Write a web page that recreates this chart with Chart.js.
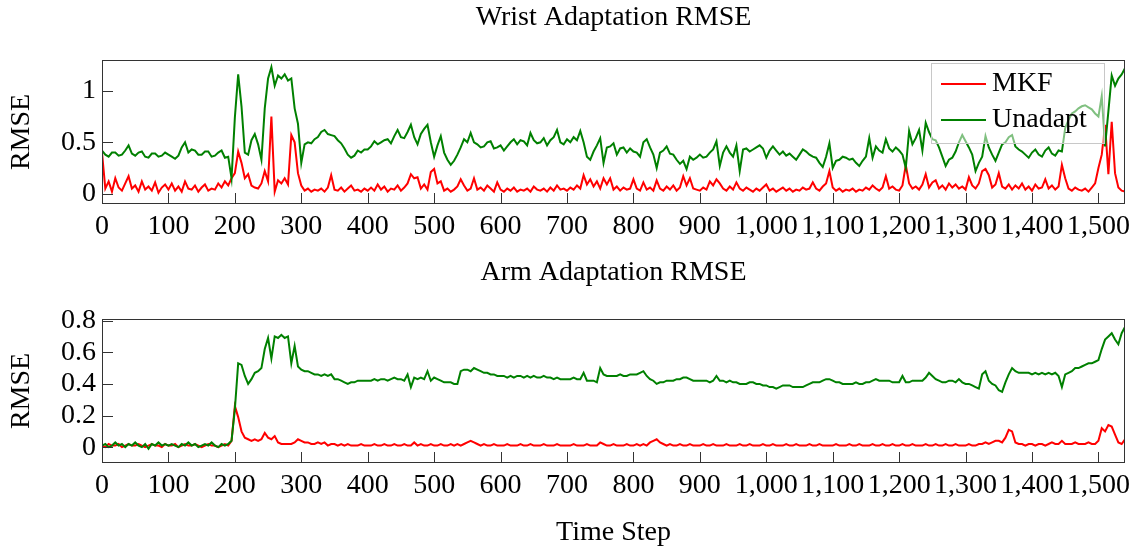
<!DOCTYPE html>
<html>
<head>
<meta charset="utf-8">
<script src="https://cdn.jsdelivr.net/npm/chart.js@4.4.1/dist/chart.umd.min.js"></script>
<style>
  body { margin: 0; background: #fff; }
  #wrap { position: relative; width: 1136px; height: 550px; }
  .box { position: absolute; left: 0; width: 1136px; }
  #topBox { top: 0; height: 250px; }
  #botBox { top: 250px; height: 300px; }
</style>
</head>
<body>
<div id="wrap">
  <div class="box" id="topBox"><canvas id="wristChart"></canvas></div>
  <div class="box" id="botBox"><canvas id="armChart"></canvas></div>
</div>
<script>
// one value every 5 time steps (0 .. 1540)
const stepSize = 5;

const wristMkf = [
  0.40, 0.05, 0.12, 0.02, 0.15, 0.06, 0.03, 0.10, 0.17, 0.05, 0.08, 0.02, 0.12, 0.04, 0.07, 0.03, 0.11, 0.01, 0.06, 0.09,
  0.04, 0.10, 0.03, 0.07, 0.02, 0.12, 0.05, 0.04, 0.08, 0.02, 0.06, 0.09, 0.03, 0.05, 0.04, 0.10, 0.06, 0.12, 0.08, 0.15,
  0.20, 0.41, 0.30, 0.15, 0.19, 0.08, 0.06, 0.05, 0.10, 0.22, 0.12, 0.75, 0.02, 0.13, 0.10, 0.15, 0.09, 0.57, 0.50, 0.20,
  0.08, 0.03, 0.05, 0.02, 0.04, 0.03, 0.05, 0.02, 0.06, 0.18, 0.04, 0.03, 0.06, 0.02, 0.05, 0.08, 0.03, 0.04, 0.02, 0.05,
  0.03, 0.06, 0.03, 0.09, 0.04, 0.07, 0.02, 0.05, 0.04, 0.08, 0.03, 0.06, 0.10, 0.19, 0.15, 0.16, 0.05, 0.09, 0.04, 0.21,
  0.24, 0.10, 0.12, 0.03, 0.05, 0.02, 0.04, 0.07, 0.14, 0.08, 0.03, 0.05, 0.15, 0.04, 0.06, 0.03, 0.08, 0.05, 0.02, 0.11,
  0.04, 0.02, 0.05, 0.03, 0.06, 0.02, 0.04, 0.03, 0.05, 0.02, 0.07, 0.04, 0.03, 0.05, 0.02, 0.06, 0.03, 0.08, 0.04, 0.05,
  0.03, 0.06, 0.04, 0.08, 0.05, 0.18, 0.09, 0.14, 0.07, 0.12, 0.05, 0.15, 0.09, 0.15, 0.04, 0.07, 0.03, 0.06, 0.04, 0.05,
  0.14, 0.05, 0.03, 0.11, 0.04, 0.06, 0.03, 0.13, 0.05, 0.03, 0.07, 0.04, 0.08, 0.03, 0.06, 0.17, 0.08, 0.15, 0.05, 0.04,
  0.03, 0.06, 0.04, 0.12, 0.08, 0.14, 0.10, 0.05, 0.03, 0.07, 0.04, 0.11, 0.05, 0.03, 0.06, 0.04, 0.02, 0.05, 0.03, 0.06,
  0.09, 0.03, 0.05, 0.02, 0.04, 0.06, 0.03, 0.05, 0.02, 0.04, 0.03, 0.06, 0.04, 0.05, 0.11, 0.05, 0.03, 0.07, 0.10, 0.22,
  0.06, 0.03, 0.05, 0.02, 0.04, 0.03, 0.05, 0.02, 0.04, 0.03, 0.06, 0.04, 0.08, 0.05, 0.03, 0.06, 0.17, 0.05, 0.07, 0.04,
  0.03, 0.08, 0.28, 0.10, 0.05, 0.07, 0.04, 0.09, 0.19, 0.06, 0.11, 0.13, 0.05, 0.08, 0.04, 0.10, 0.06, 0.09, 0.05, 0.07,
  0.04, 0.16, 0.08, 0.05, 0.10, 0.22, 0.24, 0.18, 0.06, 0.09, 0.20, 0.07, 0.05, 0.09, 0.04, 0.08, 0.05, 0.10, 0.04, 0.07,
  0.03, 0.09, 0.05, 0.06, 0.14, 0.05, 0.08, 0.04, 0.07, 0.28, 0.15, 0.05, 0.03, 0.06, 0.04, 0.03, 0.05, 0.02, 0.06, 0.10,
  0.25, 0.38, 0.67, 0.19, 0.70, 0.20, 0.06, 0.03, 0.02
];

const wristUnadapt = [
  0.42, 0.38, 0.36, 0.40, 0.40, 0.37, 0.38, 0.42, 0.47, 0.39, 0.37, 0.40, 0.41, 0.36, 0.35, 0.39, 0.39, 0.36, 0.37, 0.40,
  0.38, 0.36, 0.34, 0.37, 0.45, 0.50, 0.40, 0.43, 0.42, 0.38, 0.38, 0.41, 0.41, 0.36, 0.37, 0.40, 0.42, 0.35, 0.36, 0.15,
  0.74, 1.16, 0.85, 0.40, 0.38, 0.52, 0.58, 0.48, 0.33, 0.83, 1.12, 1.23, 1.05, 1.15, 1.12, 1.16, 1.10, 1.12, 0.83, 0.68,
  0.30, 0.48, 0.50, 0.49, 0.53, 0.55, 0.60, 0.62, 0.58, 0.57, 0.56, 0.52, 0.49, 0.44, 0.38, 0.35, 0.37, 0.42, 0.40, 0.43,
  0.43, 0.46, 0.51, 0.48, 0.50, 0.52, 0.53, 0.49, 0.56, 0.62, 0.55, 0.54, 0.60, 0.67, 0.55, 0.48, 0.58, 0.63, 0.67, 0.50,
  0.36, 0.47, 0.56, 0.40, 0.33, 0.28, 0.32, 0.38, 0.45, 0.53, 0.50, 0.59, 0.50, 0.48, 0.45, 0.46, 0.50, 0.51, 0.44, 0.45,
  0.47, 0.42, 0.46, 0.50, 0.53, 0.48, 0.52, 0.51, 0.47, 0.59, 0.52, 0.49, 0.50, 0.54, 0.47, 0.52, 0.55, 0.62, 0.50, 0.48,
  0.53, 0.50, 0.55, 0.52, 0.61, 0.50, 0.36, 0.33, 0.41, 0.47, 0.54, 0.30, 0.45, 0.46, 0.49, 0.38, 0.44, 0.45, 0.40, 0.44,
  0.41, 0.40, 0.36, 0.50, 0.53, 0.45, 0.38, 0.25, 0.40, 0.42, 0.46, 0.39, 0.38, 0.33, 0.29, 0.32, 0.24, 0.36, 0.33, 0.35,
  0.38, 0.35, 0.36, 0.40, 0.43, 0.51, 0.27, 0.40, 0.46, 0.40, 0.36, 0.47, 0.22, 0.43, 0.44, 0.41, 0.43, 0.45, 0.47, 0.44,
  0.35, 0.42, 0.46, 0.42, 0.38, 0.41, 0.37, 0.39, 0.36, 0.33, 0.38, 0.43, 0.41, 0.38, 0.36, 0.35, 0.30, 0.26, 0.36, 0.49,
  0.25, 0.32, 0.33, 0.36, 0.35, 0.33, 0.34, 0.30, 0.27, 0.32, 0.36, 0.54, 0.35, 0.46, 0.42, 0.40, 0.53, 0.44, 0.41, 0.45,
  0.42, 0.38, 0.25, 0.61, 0.48, 0.54, 0.62, 0.42, 0.69, 0.60, 0.53, 0.52, 0.45, 0.36, 0.27, 0.33, 0.35, 0.41, 0.50, 0.57,
  0.51, 0.45, 0.38, 0.22, 0.30, 0.36, 0.56, 0.45, 0.38, 0.32, 0.40, 0.48, 0.50, 0.55, 0.57, 0.46, 0.43, 0.41, 0.38, 0.35,
  0.40, 0.43, 0.38, 0.36, 0.42, 0.45, 0.39, 0.37, 0.42, 0.41, 0.64, 0.72, 0.78, 0.80, 0.83, 0.85, 0.86, 0.84, 0.82, 0.78,
  0.75, 0.95, 0.46, 0.80, 1.15, 1.05, 1.12, 1.16, 1.22
];

const armMkf = [
  0.01, 0.00, 0.02, 0.01, 0.01, 0.02, 0.00, 0.01, 0.02, 0.01, 0.01, 0.02, 0.01, 0.00, 0.01, 0.02, 0.01, 0.01, 0.00, 0.02,
  0.01, 0.01, 0.02, 0.00, 0.01, 0.02, 0.01, 0.01, 0.02, 0.01, 0.00, 0.01, 0.02, 0.01, 0.01, 0.00, 0.01, 0.02, 0.01, 0.04,
  0.26, 0.19, 0.10, 0.06, 0.05, 0.04, 0.05, 0.04, 0.05, 0.09, 0.06, 0.05, 0.07, 0.03, 0.02, 0.02, 0.02, 0.02, 0.03, 0.05,
  0.04, 0.03, 0.03, 0.02, 0.02, 0.03, 0.02, 0.03, 0.01, 0.02, 0.02, 0.01, 0.02, 0.01, 0.02, 0.01, 0.01, 0.01, 0.02, 0.01,
  0.01, 0.01, 0.02, 0.01, 0.01, 0.02, 0.01, 0.01, 0.02, 0.01, 0.01, 0.02, 0.01, 0.01, 0.03, 0.01, 0.02, 0.01, 0.01, 0.02,
  0.01, 0.01, 0.02, 0.01, 0.01, 0.02, 0.01, 0.02, 0.01, 0.02, 0.03, 0.04, 0.03, 0.02, 0.01, 0.02, 0.01, 0.01, 0.02, 0.01,
  0.01, 0.01, 0.02, 0.01, 0.01, 0.01, 0.02, 0.01, 0.01, 0.02, 0.01, 0.01, 0.01, 0.02, 0.01, 0.01, 0.01, 0.02, 0.01, 0.01,
  0.01, 0.01, 0.02, 0.01, 0.01, 0.01, 0.02, 0.01, 0.01, 0.01, 0.03, 0.02, 0.01, 0.01, 0.02, 0.01, 0.01, 0.01, 0.02, 0.01,
  0.01, 0.02, 0.01, 0.02, 0.01, 0.03, 0.04, 0.05, 0.03, 0.02, 0.01, 0.02, 0.01, 0.01, 0.02, 0.01, 0.01, 0.02, 0.01, 0.01,
  0.01, 0.02, 0.01, 0.01, 0.02, 0.01, 0.01, 0.01, 0.02, 0.01, 0.01, 0.01, 0.02, 0.01, 0.01, 0.02, 0.01, 0.01, 0.01, 0.02,
  0.01, 0.01, 0.02, 0.01, 0.01, 0.01, 0.02, 0.01, 0.01, 0.02, 0.01, 0.01, 0.01, 0.02, 0.01, 0.01, 0.02, 0.01, 0.01, 0.01,
  0.01, 0.02, 0.01, 0.01, 0.01, 0.02, 0.01, 0.01, 0.02, 0.01, 0.01, 0.01, 0.02, 0.01, 0.01, 0.02, 0.01, 0.01, 0.02, 0.01,
  0.01, 0.02, 0.01, 0.01, 0.02, 0.01, 0.01, 0.01, 0.02, 0.01, 0.01, 0.02, 0.01, 0.01, 0.02, 0.01, 0.01, 0.02, 0.01, 0.01,
  0.01, 0.02, 0.01, 0.01, 0.02, 0.02, 0.03, 0.02, 0.03, 0.04, 0.04, 0.03, 0.06, 0.11, 0.10, 0.03, 0.02, 0.02, 0.01, 0.02,
  0.02, 0.01, 0.02, 0.02, 0.01, 0.02, 0.03, 0.02, 0.02, 0.04, 0.02, 0.02, 0.02, 0.03, 0.02, 0.02, 0.02, 0.03, 0.02, 0.02,
  0.04, 0.12, 0.10, 0.14, 0.13, 0.08, 0.03, 0.02, 0.05
];

const armUnadapt = [
  0.01, 0.02, 0.00, 0.01, 0.03, 0.01, 0.02, 0.00, 0.02, 0.01, 0.03, 0.01, 0.00, 0.02, -0.01, 0.02, 0.01, 0.03, 0.01, 0.02,
  0.01, 0.02, 0.01, 0.00, 0.02, 0.01, 0.03, 0.01, 0.02, 0.00, 0.01, 0.02, 0.01, 0.03, 0.01, 0.00, 0.02, 0.01, 0.02, 0.04,
  0.24, 0.53, 0.52, 0.45, 0.40, 0.43, 0.47, 0.48, 0.50, 0.62, 0.69, 0.56, 0.70, 0.69, 0.71, 0.69, 0.70, 0.53, 0.64, 0.51,
  0.49, 0.48, 0.48, 0.47, 0.46, 0.46, 0.45, 0.46, 0.45, 0.46, 0.43, 0.43, 0.42, 0.41, 0.40, 0.41, 0.41, 0.42, 0.42, 0.42,
  0.42, 0.42, 0.43, 0.42, 0.43, 0.43, 0.42, 0.43, 0.44, 0.43, 0.43, 0.42, 0.46, 0.38, 0.44, 0.43, 0.44, 0.43, 0.48, 0.42,
  0.44, 0.43, 0.42, 0.41, 0.41, 0.41, 0.40, 0.40, 0.48, 0.49, 0.49, 0.48, 0.50, 0.49, 0.48, 0.47, 0.47, 0.46, 0.46, 0.45,
  0.45, 0.45, 0.44, 0.45, 0.44, 0.45, 0.45, 0.44, 0.45, 0.44, 0.45, 0.44, 0.44, 0.45, 0.44, 0.44, 0.43, 0.44, 0.43, 0.43,
  0.43, 0.43, 0.44, 0.43, 0.43, 0.47, 0.42, 0.42, 0.42, 0.41, 0.50, 0.46, 0.45, 0.45, 0.45, 0.45, 0.46, 0.45, 0.45, 0.46,
  0.46, 0.46, 0.47, 0.48, 0.45, 0.43, 0.42, 0.40, 0.41, 0.41, 0.42, 0.42, 0.42, 0.43, 0.43, 0.44, 0.44, 0.43, 0.42, 0.42,
  0.42, 0.42, 0.42, 0.41, 0.42, 0.45, 0.42, 0.42, 0.41, 0.42, 0.41, 0.41, 0.40, 0.40, 0.40, 0.41, 0.41, 0.40, 0.40, 0.39,
  0.39, 0.38, 0.38, 0.37, 0.38, 0.39, 0.39, 0.39, 0.38, 0.38, 0.38, 0.38, 0.39, 0.40, 0.41, 0.41, 0.41, 0.42, 0.43, 0.43,
  0.42, 0.41, 0.41, 0.40, 0.40, 0.40, 0.40, 0.41, 0.40, 0.40, 0.41, 0.41, 0.42, 0.43, 0.42, 0.42, 0.42, 0.42, 0.41, 0.41,
  0.41, 0.45, 0.41, 0.41, 0.42, 0.42, 0.42, 0.42, 0.44, 0.47, 0.45, 0.43, 0.42, 0.41, 0.41, 0.42, 0.42, 0.41, 0.43, 0.41,
  0.40, 0.40, 0.39, 0.38, 0.37, 0.46, 0.48, 0.42, 0.40, 0.39, 0.36, 0.35, 0.41, 0.46, 0.50, 0.48, 0.47, 0.47, 0.47, 0.47,
  0.46, 0.47, 0.46, 0.47, 0.46, 0.47, 0.46, 0.47, 0.45, 0.38, 0.46, 0.47, 0.48, 0.50, 0.50, 0.51, 0.52, 0.53, 0.53, 0.54,
  0.55, 0.62, 0.68, 0.70, 0.72, 0.68, 0.65, 0.72, 0.76
];

const xTicks = [0, 100, 200, 300, 400, 500, 600, 700, 800, 900, 1000, 1100, 1200, 1300, 1400, 1500];
const wristYTicks = [0, 0.5, 1];
const armYTicks = [0, 0.2, 0.4, 0.6, 0.8];
const seriesNames = ['MKF', 'Unadapt'];
const seriesColors = ['#ff0000', '#008000'];

const timeSteps = wristMkf.map((_, i) => i * stepSize);

const serif = "'Liberation Serif', 'Times New Roman', serif";
const fontSize = 28;
Chart.defaults.font.family = serif;
Chart.defaults.font.size = fontSize;
Chart.defaults.color = '#000';

function withCommas(v) {
    return String(v).replace(/\B(?=(\d{3})+(?!\d))/g, ',');
}

// pgfplots style frame with ticks pointing inwards
const framePlugin = {
    id: 'frame',
    afterDatasetsDraw(chart) {
        const {ctx, chartArea: a, scales: {x, y}} = chart;
        ctx.save();
        ctx.strokeStyle = '#333';
        ctx.lineWidth = 1;
        ctx.beginPath();
        x.ticks.forEach(t => {
            const px = Math.round(x.getPixelForValue(t.value)) + 0.5;
            ctx.moveTo(px, a.bottom);
            ctx.lineTo(px, a.bottom - 11);
        });
        y.ticks.forEach(t => {
            const py = Math.round(y.getPixelForValue(t.value)) + 0.5;
            ctx.moveTo(a.left, py);
            ctx.lineTo(a.left + 11, py);
        });
        ctx.stroke();
        ctx.strokeRect(Math.round(a.left) + 0.5, Math.round(a.top) + 0.5,
            Math.round(a.right - a.left) - 1, Math.round(a.bottom - a.top) - 1);
        ctx.restore();
    }
};

// semi transparent legend box in the upper right corner
const boxLegend = {
    id: 'boxLegend',
    afterDraw(chart, args, opts) {
        if (!opts.show) return;
        const {ctx, chartArea: a} = chart;
        const w = 173, h = 80;
        const left = a.right - 21 - w;
        const top = a.top + 3;
        ctx.save();
        ctx.fillStyle = 'rgba(255,255,255,0.5)';
        ctx.fillRect(left, top, w, h);
        ctx.strokeStyle = '#c8c8c8';
        ctx.lineWidth = 1;
        ctx.strokeRect(left + 0.5, top + 0.5, w, h);
        ctx.font = fontSize + 'px ' + serif;
        ctx.textBaseline = 'middle';
        seriesNames.forEach((name, i) => {
            const yy = top + 21 + i * 36;
            ctx.strokeStyle = seriesColors[i];
            ctx.lineWidth = 2;
            ctx.beginPath();
            ctx.moveTo(left + 10, yy);
            ctx.lineTo(left + 55, yy);
            ctx.stroke();
            ctx.fillStyle = '#000';
            ctx.fillText(name, left + 61, yy);
        });
        ctx.restore();
    }
};

function makeChart(canvasId, cfg) {
    const datasets = cfg.series.map((vals, i) => ({
        label: seriesNames[i],
        data: vals,
        borderColor: seriesColors[i],
        borderWidth: 2,
        pointRadius: 0,
        tension: 0,
        fill: false,
        order: 2 - i
    }));
    return new Chart(document.getElementById(canvasId), {
        type: 'line',
        data: {labels: timeSteps, datasets: datasets},
        plugins: [framePlugin, boxLegend],
        options: {
            responsive: true,
            maintainAspectRatio: false,
            animation: false,
            events: [],
            layout: {padding: {left: 0, right: 11, top: 0, bottom: 0}},
            plugins: {
                legend: {display: false},
                tooltip: {enabled: false},
                boxLegend: {show: cfg.showLegend},
                title: {
                    display: true,
                    fullSize: false,
                    text: cfg.title,
                    color: '#000',
                    font: {size: fontSize, weight: 'normal', lineHeight: 1.2},
                    padding: cfg.titlePadding
                }
            },
            scales: {
                x: {
                    type: 'linear',
                    min: 0,
                    max: 1540,
                    grid: {display: false, drawTicks: false},
                    border: {display: false},
                    afterBuildTicks: s => { s.ticks = xTicks.map(v => ({value: v})); },
                    afterFit: s => { s.height = cfg.xHeight; },
                    ticks: {
                        autoSkip: false,
                        maxRotation: 0,
                        minRotation: 0,
                        padding: 5.7,
                        font: {size: fontSize, lineHeight: 1.2},
                        callback: v => withCommas(v)
                    },
                    title: {
                        display: !!cfg.xTitle,
                        text: cfg.xTitle || '',
                        font: {size: fontSize, lineHeight: 1.2},
                        padding: {top: 0, bottom: 0.2}
                    }
                },
                y: {
                    type: 'linear',
                    min: cfg.yMin,
                    max: cfg.yMax,
                    grid: {display: false, drawTicks: false},
                    border: {display: false},
                    afterBuildTicks: s => { s.ticks = cfg.yTicks.map(v => ({value: v})); },
                    afterFit: s => { s.width = 102; },
                    ticks: {
                        autoSkip: false,
                        padding: 6,
                        font: {size: fontSize, lineHeight: 1.2},
                        callback: v => String(v)
                    },
                    title: {
                        display: true,
                        text: 'RMSE',
                        font: {size: fontSize, lineHeight: 1.2},
                        padding: {top: 5.2, bottom: 0}
                    }
                }
            }
        }
    });
}

makeChart('wristChart', {
    series: [wristMkf, wristUnadapt],
    title: 'Wrist Adaptation RMSE',
    titlePadding: {top: 1.2, bottom: 25.2},
    xHeight: 46,
    yMin: -0.1,
    yMax: 1.3,
    yTicks: wristYTicks,
    showLegend: true
});

makeChart('armChart', {
    series: [armMkf, armUnadapt],
    title: 'Arm Adaptation RMSE',
    titlePadding: {top: 6.2, bottom: 29.2},
    xHeight: 87,
    xTitle: 'Time Step',
    yMin: -0.1,
    yMax: 0.81,
    yTicks: armYTicks,
    showLegend: false
});
</script>
</body>
</html>
